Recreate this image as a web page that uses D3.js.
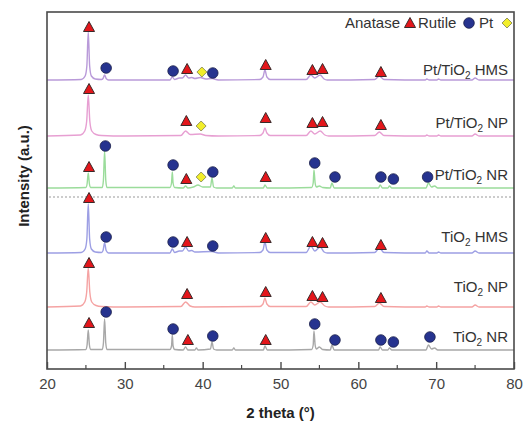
<!DOCTYPE html>
<html lang="en">
<head>
<meta charset="UTF-8">
<title>XRD patterns</title>
<script src="https://d3js.org/d3.v7.min.js"></script>
<style>
    body { margin: 0; background: #fff; }
    text { font-family: "Liberation Sans", Arial, sans-serif; }
</style>
</head>
<body>
<svg width="529" height="422"></svg>
<script>
// sample names (top to bottom) and baseline offsets in a.u.
var names = [["Pt/TiO", "2", " HMS"], ["Pt/TiO", "2", " NP"], ["Pt/TiO", "2", " NR"],
             ["TiO", "2", " HMS"], ["TiO", "2", " NP"], ["TiO", "2", " NR"]];
var offsets = [289, 233, 181, 116, 62, 19];
var dashLevel = 172;
var lineColors = ["#b99ad9", "#e79fd2", "#9bdc9b", "#9d9fe4", "#f5a3a3", "#a8a8a8"];
var xTicks = [20, 30, 40, 50, 60, 70, 80];
var xMinor = [25, 35, 45, 55, 65, 75];

// traced patterns: [2theta, intensity above baseline]
var ptHms = [[20,0],[24.4,0.5],[24.9,4],[25.12,14],[25.3,48],[25.48,14],[25.7,4],[26.2,1],[27.0,0.5],[27.2,1.5],[27.4,5],[27.6,1.5],[27.9,0],
    [35.8,0],[36.1,3],[36.4,0.5],[37.0,2],[37.4,2],[37.8,5],[38.2,2],[38.6,2.5],[39.0,1.5],[39.7,2.5],[40.4,1],[41.2,1.5],[42,0],
    [47.3,0.5],[47.75,3],[48.0,10],[48.25,3],[48.7,0.5],[53.3,0.5],[53.9,5],[54.4,2],[55.1,5],[55.6,1],[56,0],
    [62.1,0.5],[62.7,4],[63.3,0.5],[68.6,0],[68.8,1],[69.1,0],[70.1,0],[70.3,1],[70.6,0],[74.6,0],[75.0,2],[75.5,0],[80,0]];
var ptNp = [[20,0],[24.3,1],[24.85,5],[25.1,15],[25.3,41],[25.5,15],[25.75,5],[26.3,1.5],[27,0.5],[30,0],
    [37.2,0.5],[37.8,5],[38.4,1.5],[39.7,2],[40.4,0.5],[42,0],[47.3,0.5],[47.75,3],[48.0,8],[48.25,3],[48.7,0.5],
    [53.3,0.5],[53.9,5],[54.4,2],[55.1,5],[55.7,1],[56.2,0],[62.1,0.5],[62.7,4],[63.3,0.5],
    [68.6,0],[68.8,1],[69.1,0],[70.1,0],[70.3,1],[70.6,0],[74.6,0],[75.0,2],[75.5,0],[80,0]];
var ptNr = [[20,0],[25.0,0.5],[25.15,4],[25.3,15],[25.45,4],[25.6,0.5],[27.1,0.5],[27.25,8],[27.4,37],[27.55,8],[27.7,0.5],
    [35.8,0.5],[36.0,5],[36.1,16],[36.2,5],[36.4,0.5],[37.5,0],[37.8,2],[38.1,0],[38.8,1],[39.4,3],[40.0,1],
    [41.0,1],[41.2,10],[41.4,1],[41.8,0],[43.8,0],[44.0,2],[44.2,0],[47.8,0],[48.0,3],[48.3,0],
    [54.0,0.5],[54.2,5],[54.3,18],[54.45,5],[54.6,1],[55.0,2],[55.4,0.5],[56.4,0],[56.6,5],[56.9,0],
    [62.6,0],[62.8,3],[63.1,0],[63.8,0],[64.0,2],[64.3,0],[68.7,0],[69.0,5],[69.4,1],[69.8,2],[70.2,0],[80,0]];
var tiHms = [[20,0],[24.4,0.5],[24.9,4],[25.12,14],[25.3,49],[25.48,14],[25.7,4],[26.2,1],[27.0,0.5],[27.2,2.5],[27.4,10],[27.6,2.5],[27.9,0],
    [35.8,0],[36.1,4],[36.4,0.5],[37.0,2],[37.4,2],[37.8,6],[38.2,2],[38.6,2.5],[39.0,1],[41.2,1.5],[42,0],
    [47.3,0.5],[47.75,3],[48.0,11],[48.25,3],[48.7,0.5],[53.3,0.5],[53.9,7],[54.4,2],[55.1,6],[55.6,1],[56,0],
    [62.1,0.5],[62.7,5],[63.3,0.5],[68.6,0],[68.8,2],[69.1,0],[70.1,0],[70.3,1],[70.6,0],[74.6,0],[75.0,2],[75.5,0],[80,0]];
var tiNp = [[20,0],[24.3,1],[24.85,5],[25.1,15],[25.3,39],[25.5,15],[25.75,5],[26.3,1.5],[27,0.5],[30,0],
    [37.2,0.5],[37.8,5],[38.4,1],[39,0],[47.3,0.5],[47.75,3],[48.0,9],[48.25,3],[48.7,0.5],
    [53.3,0.5],[53.9,5],[54.4,2],[55.1,5],[55.7,1],[56.2,0],[62.1,0.5],[62.7,4],[63.3,0.5],
    [68.6,0],[68.8,1],[69.1,0],[70.1,0],[70.3,1],[70.6,0],[74.6,0],[75.0,2],[75.5,0],[80,0]];
var tiNr = [[20,0],[25.0,0.5],[25.15,5],[25.3,20],[25.45,5],[25.6,0.5],[27.1,0.5],[27.25,7],[27.4,31],[27.55,7],[27.7,0.5],
    [35.8,0.5],[36.0,4],[36.1,15],[36.2,4],[36.4,0.5],[37.5,0],[37.8,3],[38.1,0],[39.0,0],[39.2,2],[39.4,0],
    [41.0,1],[41.2,8],[41.4,1],[41.8,0],[43.8,0],[44.0,2],[44.2,0],[47.8,0],[48.0,4],[48.3,0],
    [54.0,0.5],[54.2,5],[54.3,19],[54.45,5],[54.6,1],[55.0,3],[55.4,0.5],[56.4,0],[56.6,5],[56.9,0],
    [62.6,0],[62.8,3],[63.1,0],[63.8,0],[64.0,2],[64.3,0],[68.7,0],[69.0,5],[69.4,1],[69.8,2],[70.2,0],[80,0]];
var patterns = [ptHms, ptNp, ptNr, tiHms, tiNp, tiNr];

// phase markers: [2theta, height above baseline, phase] A=anatase R=rutile P=Pt
var ptHmsMarks = [[25.4,53,"A"],[27.6,12,"R"],[36.2,9,"R"],[38.0,11,"A"],[39.9,8,"P"],[41.3,7,"R"],[48.1,15,"A"],[54.1,10,"A"],[55.4,11,"A"],[62.9,8,"A"]];
var ptNpMarks = [[25.4,47,"A"],[37.9,15,"A"],[39.8,10,"P"],[48.1,18,"A"],[54.1,13,"A"],[55.4,14,"A"],[62.9,11,"A"]];
var ptNrMarks = [[25.4,21,"A"],[27.5,42,"R"],[36.2,23,"R"],[37.9,9,"A"],[39.8,11,"P"],[41.3,16,"R"],[48.1,11,"A"],[54.4,25,"R"],[57.0,11,"R"],[62.9,11,"R"],[64.5,9,"R"],[68.9,11,"R"]];
var tiHmsMarks = [[25.4,55,"A"],[27.6,16,"R"],[36.2,11,"R"],[38.0,11,"A"],[41.3,7,"R"],[48.1,15,"A"],[54.1,11,"A"],[55.4,10,"A"],[62.9,8,"A"]];
var tiNpMarks = [[25.4,44,"A"],[38.0,13,"A"],[48.1,15,"A"],[54.1,11,"A"],[55.4,10,"A"],[62.9,9,"A"]];
var tiNrMarks = [[25.4,27,"A"],[27.6,38,"R"],[36.2,21,"R"],[38.1,10,"A"],[41.3,14,"R"],[48.1,10,"A"],[54.4,26,"R"],[57.0,10,"R"],[62.9,10,"R"],[64.5,8,"R"],[69.2,13,"R"]];
var markSets = [ptHmsMarks, ptNpMarks, ptNrMarks, tiHmsMarks, tiNpMarks, tiNrMarks];

var svg = d3.select("svg");
var plotL = 47, plotR = 514, plotT = 12, plotB = 369;

var x = d3.scaleLinear().domain([20, 80]).range([plotL, plotR]);
var y = d3.scaleLinear().domain([0, plotB - plotT]).range([plotB, plotT]);

var line = d3.line()
    .x(function(d) { return x(d[0]); })
    .y(function(d) { return y(d[1]); })
    .curve(d3.curveMonotoneX);

// dashed separator
svg.append("line")
    .attr("x1", plotL + 2).attr("x2", plotR - 2)
    .attr("y1", y(dashLevel)).attr("y2", y(dashLevel))
    .attr("stroke", "#999").attr("stroke-width", 1.2)
    .attr("stroke-dasharray", "2,2");

patterns.forEach(function(p, i) {
    svg.append("path")
        .datum(p.map(function(d) { return [d[0], d[1] + offsets[i]]; }))
        .attr("fill", "none")
        .attr("stroke", lineColors[i])
        .attr("stroke-width", 1.4)
        .attr("d", line);
});

function drawMark(g, kind, cx, cy) {
    if (kind == "A") {
        g.append("path")
            .attr("d", "M" + cx + "," + (cy - 5.5) + "L" + (cx + 5.5) + "," + (cy + 4.5) + "L" + (cx - 5.5) + "," + (cy + 4.5) + "Z")
            .attr("fill", "#e3161b").attr("stroke", "#3a2a2a").attr("stroke-width", 1);
    } else if (kind == "R") {
        g.append("circle")
            .attr("cx", cx).attr("cy", cy).attr("r", 5.3)
            .attr("fill", "#26338f").attr("stroke", "#1a1f4a").attr("stroke-width", 0.8);
    } else {
        g.append("path")
            .attr("d", "M" + cx + "," + (cy - 5) + "L" + (cx + 5) + "," + cy + "L" + cx + "," + (cy + 5) + "L" + (cx - 5) + "," + cy + "Z")
            .attr("fill", "#f2ee2a").attr("stroke", "#8a8a5a").attr("stroke-width", 0.9);
    }
}

var marks = svg.append("g");
markSets.forEach(function(set, i) {
    set.forEach(function(m) {
        drawMark(marks, m[2], x(m[0]), y(m[1] + offsets[i]));
    });
});

// sample labels
var labelY = [70, 123, 175, 237, 287, 337];
names.forEach(function(n, i) {
    var t = svg.append("text")
        .attr("x", 508).attr("y", labelY[i] + 5)
        .attr("text-anchor", "end")
        .attr("font-size", 15).attr("fill", "#333");
    t.append("tspan").text(n[0]);
    t.append("tspan").attr("font-size", 10).attr("dy", 4).text(n[1]);
    t.append("tspan").attr("dy", -4).text(n[2]);
});

// legend
var leg = svg.append("g").attr("font-size", 15).attr("fill", "#333");
leg.append("text").attr("x", 345).attr("y", 28).text("Anatase");
drawMark(leg, "A", 410, 23);
leg.append("text").attr("x", 418).attr("y", 28).text("Rutile");
drawMark(leg, "R", 469, 23);
leg.append("text").attr("x", 479).attr("y", 28).text("Pt");
drawMark(leg, "P", 507, 23);

// frame
svg.append("rect")
    .attr("x", plotL).attr("y", plotT)
    .attr("width", plotR - plotL).attr("height", plotB - plotT)
    .attr("fill", "none").attr("stroke", "#4a4a4a").attr("stroke-width", 1.6);

// x axis, ticks pointing inward
var ax = svg.append("g")
    .attr("transform", "translate(0," + plotB + ")")
    .call(d3.axisBottom(x).tickValues(xTicks).tickSize(-7).tickPadding(9));
ax.select(".domain").remove();
ax.selectAll(".tick line").attr("stroke", "#4a4a4a").attr("stroke-width", 1.4);
ax.selectAll(".tick text").attr("font-size", 15).attr("fill", "#444")
    .attr("font-family", "Liberation Sans, Arial, sans-serif");

svg.append("g").selectAll("line")
    .data(xMinor)
    .enter().append("line")
    .attr("x1", function(d) { return x(d); }).attr("x2", function(d) { return x(d); })
    .attr("y1", plotB).attr("y2", plotB - 4)
    .attr("stroke", "#4a4a4a").attr("stroke-width", 1.2);

svg.append("text")
    .attr("x", (plotL + plotR) / 2).attr("y", 418)
    .attr("text-anchor", "middle")
    .attr("font-size", 15).attr("font-weight", "bold").attr("fill", "#222")
    .text("2 theta (\u00b0)");

svg.append("text")
    .attr("transform", "translate(29,176) rotate(-90)")
    .attr("text-anchor", "middle")
    .attr("font-size", 15).attr("font-weight", "bold").attr("fill", "#222")
    .text("Intensity (a.u.)");
</script>
</body>
</html>
